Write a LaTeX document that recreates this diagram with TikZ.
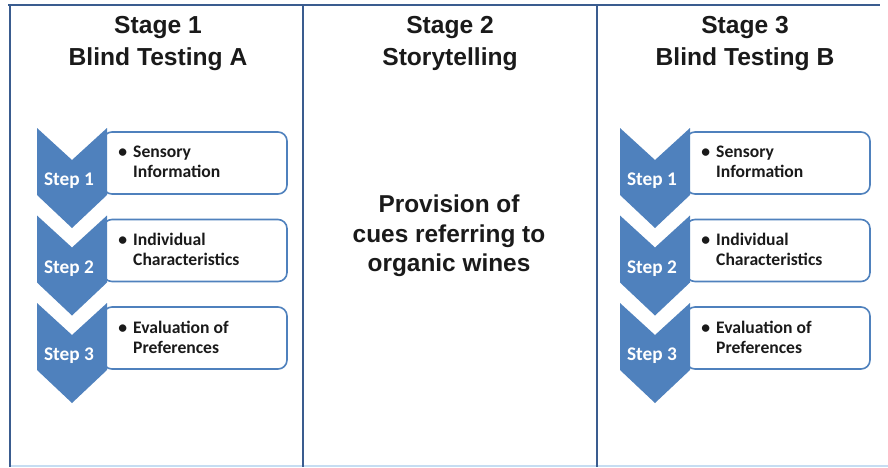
\documentclass[tikz,border=0pt]{standalone}
\usepackage{fontspec}
\setmainfont{Liberation Sans}
\newfontfamily\calib{Carlito}
\definecolor{chev}{HTML}{4F81BD}
\definecolor{framec}{HTML}{3A5C8F}
\definecolor{lightb}{HTML}{C6DDF2}
\definecolor{txt}{HTML}{1A1A1A}
\newcommand\stepcolumn[2]{%
  \foreach \k/\la/\lb in {0/Sensory/Information,1/Individual/Characteristics,2/Evaluation of/Preferences}{
    \pgfmathsetmacro\ty{128+87.5*\k}
    \pgfmathtruncatemacro\sn{\k+1}
    \draw[boxline] (#1+103,\ty+4) rectangle (#1+287,\ty+66);
    \fill[chev] (#1+37,\ty) -- (#1+72,\ty+32) -- (#1+107,\ty) -- (#1+107,\ty+67)
      -- (#1+72,\ty+100) -- (#1+37,\ty+67) -- cycle;
    \node[steptext] (#2step\k) at (#1+69,\ty+53) {Step \sn};
    \node[bullettext] (#2item\k) at (#1+133,\ty+34) {\llap{\textbullet\hspace{6pt}}\la\\\lb};
  }%
}
\begin{document}
\begin{tikzpicture}[x=1pt,y=-1pt,
  titletext/.style={font=\fontsize{24.6}{32}\selectfont\bfseries, align=center, text=txt, inner sep=0pt},
  midtext/.style={font=\fontsize{24.4}{29.5}\selectfont\bfseries, align=center, text=txt, inner sep=0pt},
  steptext/.style={font=\calib\fontsize{19.3}{22}\selectfont\bfseries, text=white, inner sep=0pt},
  bullettext/.style={font=\calib\fontsize{17.6}{20}\selectfont\bfseries, text=txt, align=left, anchor=west, inner sep=0pt},
  boxline/.style={draw=chev, line width=1.6pt, fill=white, rounded corners=9pt},
  frameline/.style={draw=framec, line width=2.6pt},
]
\useasboundingbox (0,0) rectangle (888,467);
\fill[white] (0,0) rectangle (888,467);
% frame
\draw[lightb, line width=2pt] (10,465.5) -- (888,465.5);
\draw[frameline] (8,5) -- (880,5);
\draw[frameline] (10,4) -- (10,467);
\draw[frameline] (303,4) -- (303,467);
\draw[frameline] (597,4) -- (597,467);
% titles
\node[titletext] (stage1) at (158,44) {Stage 1\\Blind Testing A};
\node[titletext] (stage2) at (450,44) {Stage 2\\Storytelling};
\node[titletext] (stage3) at (745,44) {Stage 3\\Blind Testing B};
% middle
\node[midtext] (cues) at (449,236) {Provision of\\cues referring to\\organic wines};
% steps
\stepcolumn{0}{a}
\stepcolumn{583}{b}
\end{tikzpicture}
\end{document}
